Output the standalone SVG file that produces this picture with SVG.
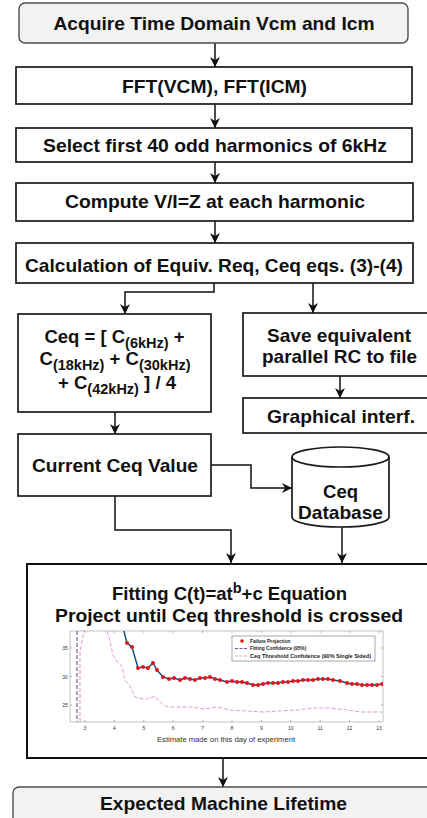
<svg xmlns="http://www.w3.org/2000/svg" width="427" height="818" viewBox="0 0 427 818">
  <defs>
    <style>
      .box { fill: #ffffff; stroke: #1a1a1a; stroke-width: 1.7; }
      .term { fill: #f2f2f2; stroke: #4d4d4d; stroke-width: 1.4; }
      .lbl { font-family: "Liberation Sans", Arial, sans-serif; font-weight: bold; font-size: 18.5px; fill: #111; text-anchor: middle; }
      .sub { font-size: 14.5px; }
      .wire { fill: none; stroke: #111; stroke-width: 1.5; marker-end: url(#arrow); }
      .ax { font-family: "Liberation Sans", Arial, sans-serif; font-size: 5px; fill: #333; text-anchor: middle; }
      .leg { font-family: "Liberation Sans", Arial, sans-serif; font-size: 4.8px; font-weight: bold; fill: #222; }
      .tick { stroke: #777; stroke-width: 0.5; }
    </style>
    <marker id="arrow" viewBox="0 0 10 10" refX="10" refY="5" markerWidth="10" markerHeight="10" markerUnits="userSpaceOnUse" orient="auto">
      <path d="M0,0 L10,5 L0,10 L3,5 z" fill="#111"/>
    </marker>
    <clipPath id="plotclip">
      <rect x="70" y="631" width="313" height="91"/>
    </clipPath>
  </defs>

  <rect width="427" height="818" fill="#ffffff"/>

  <!-- flow connectors -->
  <g id="connectors">
    <path class="wire" d="M215,43 V67"/>
    <path class="wire" d="M215,104 V128"/>
    <path class="wire" d="M215,162 V183"/>
    <path class="wire" d="M215,221 V243"/>
    <path class="wire" d="M214,283 V292 H125 V314"/>
    <path class="wire" d="M313,283 V313"/>
    <path class="wire" d="M340,376 V398"/>
    <path class="wire" d="M115,412 V434"/>
    <path class="wire" d="M211,465 H251 V488 H292"/>
    <path class="wire" d="M342,527 V563"/>
    <path class="wire" d="M115,496 V530 H231 V563"/>
    <path class="wire" d="M223,758 V787"/>
  </g>

  <g id="acquire">
    <rect class="term" x="19" y="3" width="389" height="40" rx="6"/>
    <text class="lbl" x="214" y="30" textLength="321" lengthAdjust="spacingAndGlyphs">Acquire Time Domain Vcm and Icm</text>
  </g>

  <g id="fft">
    <rect class="box" x="16" y="67" width="396" height="37"/>
    <text class="lbl" x="214.5" y="93" textLength="185" lengthAdjust="spacingAndGlyphs">FFT(VCM), FFT(ICM)</text>
  </g>

  <g id="select">
    <rect class="box" x="16" y="128" width="396" height="34"/>
    <text class="lbl" x="215" y="152" textLength="344" lengthAdjust="spacingAndGlyphs">Select first 40 odd harmonics of 6kHz</text>
  </g>

  <g id="compute">
    <rect class="box" x="16" y="183" width="397" height="38"/>
    <text class="lbl" x="215" y="208" textLength="300" lengthAdjust="spacingAndGlyphs">Compute V/I=Z at each harmonic</text>
  </g>

  <g id="calc">
    <rect class="box" x="16" y="243" width="397" height="40"/>
    <text class="lbl" x="214" y="272" textLength="378" lengthAdjust="spacingAndGlyphs">Calculation of Equiv. Req, Ceq eqs. (3)-(4)</text>
  </g>

  <g id="ceq-avg">
    <rect class="box" x="18" y="314" width="193" height="98"/>
    <text class="lbl" x="114.5" y="343" font-size="19px">Ceq = [ C<tspan class="sub" dy="5">(6kHz)</tspan><tspan dy="-5"> +</tspan></text>
    <text class="lbl" x="115" y="365" font-size="19px">C<tspan class="sub" dy="5">(18kHz)</tspan><tspan dy="-5"> + C</tspan><tspan class="sub" dy="5">(30kHz)</tspan></text>
    <text class="lbl" x="117" y="389" font-size="19px">+ C<tspan class="sub" dy="5">(42kHz)</tspan><tspan dy="-5"> ] / 4</tspan></text>
  </g>

  <g id="save-rc">
    <rect class="box" x="243" y="313" width="195" height="63"/>
    <text class="lbl" x="339" y="342" textLength="144" lengthAdjust="spacingAndGlyphs">Save equivalent</text>
    <text class="lbl" x="339.5" y="363" textLength="155" lengthAdjust="spacingAndGlyphs">parallel RC to file</text>
  </g>

  <g id="gui">
    <rect class="box" x="243" y="398" width="195" height="35"/>
    <text class="lbl" x="341" y="423" textLength="148" lengthAdjust="spacingAndGlyphs">Graphical interf.</text>
  </g>

  <g id="current-ceq">
    <rect class="box" x="18" y="434" width="193" height="62"/>
    <text class="lbl" x="115" y="472" textLength="166" lengthAdjust="spacingAndGlyphs">Current Ceq Value</text>
  </g>

  <g id="database">
    <path class="box" d="M292,457 A48.5,10 0 0 1 389,457 V517 A48.5,10 0 0 1 292,517 Z"/>
    <path d="M292,457 A48.5,10 0 0 0 389,457" fill="none" stroke="#1a1a1a" stroke-width="1.7"/>
    <text class="lbl" x="340.5" y="498">Ceq</text>
    <text class="lbl" x="340.5" y="519" textLength="85" lengthAdjust="spacingAndGlyphs">Database</text>
  </g>

  <g id="fitting">
    <rect x="27" y="564" width="420" height="194" fill="#ffffff" stroke="#111" stroke-width="2"/>
    <text class="lbl" x="229.5" y="600" font-size="19px">Fitting C(t)=at<tspan class="sub" dy="-7">b</tspan><tspan dy="7">+c Equation</tspan></text>
    <text class="lbl" x="229" y="622" textLength="348" lengthAdjust="spacingAndGlyphs">Project until Ceq threshold is crossed</text>

    <!-- projection chart -->
    <g id="chart">
      <rect x="70" y="631" width="313" height="91" fill="#ffffff" stroke="#999" stroke-width="0.6"/>
      <g class="tick">
        <path d="M85,722 v-2 M114.4,722 v-2 M143.8,722 v-2 M173.2,722 v-2 M202.6,722 v-2 M232,722 v-2 M261.4,722 v-2 M290.8,722 v-2 M320.2,722 v-2 M349.6,722 v-2 M379,722 v-2"/>
        <path d="M85,631 v2 M114.4,631 v2 M143.8,631 v2 M173.2,631 v2 M202.6,631 v2 M232,631 v2 M261.4,631 v2 M290.8,631 v2 M320.2,631 v2 M349.6,631 v2 M379,631 v2"/>
        <path d="M70,648 h2 M70,676.5 h2 M70,705 h2 M383,648 h-2 M383,676.5 h-2 M383,705 h-2"/>
      </g>
      <g class="ax">
        <text x="65" y="650">35</text>
        <text x="65" y="678.5">30</text>
        <text x="65" y="707">25</text>
        <text x="85" y="730">3</text>
        <text x="114.4" y="730">4</text>
        <text x="143.8" y="730">5</text>
        <text x="173.2" y="730">6</text>
        <text x="202.6" y="730">7</text>
        <text x="232" y="730">8</text>
        <text x="261.4" y="730">9</text>
        <text x="290.8" y="730">10</text>
        <text x="320.2" y="730">11</text>
        <text x="349.6" y="730">12</text>
        <text x="379" y="730">13</text>
        <text x="226" y="741.5" font-size="7px" textLength="138" lengthAdjust="spacingAndGlyphs">Estimate made on this day of experiment</text>
      </g>

      <g clip-path="url(#plotclip)">
        <!-- confidence bounds -->
        <path d="M77,631 V722" fill="none" stroke="#4a2a66" stroke-width="0.9" stroke-dasharray="4,2"/>
        <path d="M80,722 V652 L84,631" fill="none" stroke="#d98fd0" stroke-width="0.9" stroke-dasharray="4,2"/>
        <path d="M107,631 L110,641 L113,655 L118,663 L122,666 L125,680 L130,686 L135,697 L143,699 L148,699 L155,696 L160,702 L165,706 L170,707 L193,707 L203,709 L217,707 L230,710 L247,711 L263,712 L280,711 L297,710 L313,708 L330,708 L347,710 L360,712 L382,712" fill="none" stroke="#d98fd0" stroke-width="0.9" stroke-dasharray="4,2"/>
        <!-- projection series -->
        <polyline fill="none" stroke="#0e4a78" stroke-width="1.4" points="121,620 127,643 132,647 138,668 143,667 148,668 153,663 157,670 163,677 169,679 174,678 180,680 185,678 190,679 195,680 200,678 205,678 210,677 215,679 220,680 227,682 232,681 237,682 242,682 247,683 253,685 258,685 263,684 268,683 273,683 278,683 283,682 288,682 293,681 298,681 303,680 308,680 313,680 318,679 323,679 328,679 333,680 340,681 347,683 352,684 357,684 362,685 367,685 372,685 377,685 382,684"/>
        <g fill="#e3151b">
          <circle cx="127" cy="643" r="2"/><circle cx="132" cy="647" r="2"/><circle cx="138" cy="668" r="2"/><circle cx="143" cy="667" r="2"/><circle cx="148" cy="668" r="2"/><circle cx="153" cy="663" r="2"/><circle cx="157" cy="670" r="2"/><circle cx="163" cy="677" r="2"/><circle cx="169" cy="679" r="2"/><circle cx="174" cy="678" r="2"/>
          <circle cx="180" cy="680" r="2"/><circle cx="185" cy="678" r="2"/><circle cx="190" cy="679" r="2"/><circle cx="195" cy="680" r="2"/><circle cx="200" cy="678" r="2"/><circle cx="205" cy="678" r="2"/><circle cx="210" cy="677" r="2"/><circle cx="215" cy="679" r="2"/><circle cx="220" cy="680" r="2"/><circle cx="227" cy="682" r="2"/>
          <circle cx="232" cy="681" r="2"/><circle cx="237" cy="682" r="2"/><circle cx="242" cy="682" r="2"/><circle cx="247" cy="683" r="2"/><circle cx="253" cy="685" r="2"/><circle cx="258" cy="685" r="2"/><circle cx="263" cy="684" r="2"/><circle cx="268" cy="683" r="2"/><circle cx="273" cy="683" r="2"/><circle cx="278" cy="683" r="2"/>
          <circle cx="283" cy="682" r="2"/><circle cx="288" cy="682" r="2"/><circle cx="293" cy="681" r="2"/><circle cx="298" cy="681" r="2"/><circle cx="303" cy="680" r="2"/><circle cx="308" cy="680" r="2"/><circle cx="313" cy="680" r="2"/><circle cx="318" cy="679" r="2"/><circle cx="323" cy="679" r="2"/><circle cx="328" cy="679" r="2"/>
          <circle cx="333" cy="680" r="2"/><circle cx="340" cy="681" r="2"/><circle cx="347" cy="683" r="2"/><circle cx="352" cy="684" r="2"/><circle cx="357" cy="684" r="2"/><circle cx="362" cy="685" r="2"/><circle cx="367" cy="685" r="2"/><circle cx="372" cy="685" r="2"/><circle cx="377" cy="685" r="2"/><circle cx="382" cy="684" r="2"/>
        </g>
      </g>

      <!-- legend -->
      <g id="legend">
        <rect x="232" y="636" width="143" height="25" fill="#ffffff" stroke="#555" stroke-width="0.5"/>
        <circle cx="242" cy="641" r="1.8" fill="#e3151b"/>
        <text class="leg" x="250" y="642.8">Failure Projection</text>
        <path d="M235,648.5 H248" stroke="#4a2a66" stroke-width="0.8" stroke-dasharray="3,1.5"/>
        <text class="leg" x="250" y="650.3">Fitting Confidence (95%)</text>
        <path d="M235,656 H248" stroke="#d98fd0" stroke-width="0.8" stroke-dasharray="3,1.5"/>
        <text class="leg" x="250" y="657.8" textLength="121" lengthAdjust="spacingAndGlyphs">Ceq Threshold Confidence (90% Single Sided)</text>
      </g>
    </g>
  </g>

  <g id="lifetime">
    <rect class="term" x="13" y="787" width="430" height="45" rx="6"/>
    <text class="lbl" x="223.5" y="810" textLength="247" lengthAdjust="spacingAndGlyphs">Expected Machine Lifetime</text>
  </g>
</svg>
